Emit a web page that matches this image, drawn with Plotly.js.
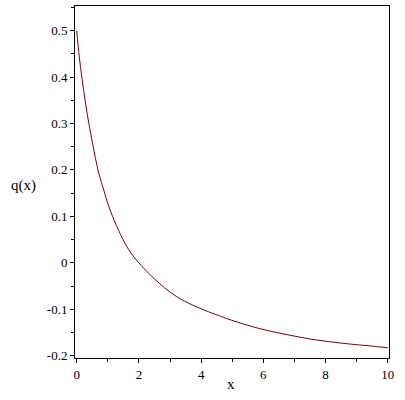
<!DOCTYPE html>
<html>
<head>
<meta charset="utf-8">
<script src="https://cdn.plot.ly/plotly-3.0.1.min.js"></script>
<style>
  html, body { margin: 0; padding: 0; background: #ffffff; }
  #chart { width: 405px; height: 400px; }
</style>
</head>
<body>
<div id="chart"></div>
<script>
// q(x) curve
const xVals = [0, 0.08, 0.17, 0.28, 0.39, 0.53, 0.69, 0.9, 1.06, 1.28, 1.55, 1.81, 2.16, 2.35,
  2.67, 3.0, 3.42, 3.96, 4.5, 4.82, 5.57, 6.21, 6.86, 7.5, 8.14, 8.79, 9.43, 10];
const qVals = [0.5, 0.445, 0.397, 0.345, 0.300, 0.250, 0.198, 0.150, 0.116, 0.080, 0.042, 0.015,
  -0.012, -0.025, -0.045, -0.063, -0.081, -0.098, -0.112, -0.120, -0.136, -0.147, -0.156, -0.164,
  -0.170, -0.175, -0.179, -0.183];

// tick labels
const yTickVals = [-0.2, -0.1, 0, 0.1, 0.2, 0.3, 0.4, 0.5];
const yTickText = ['-0.2', '-0.1', '0', '0.1', '0.2', '0.3', '0.4', '0.5'];
const xTickVals = [0, 2, 4, 6, 8, 10];
const xTickText = ['0', '2', '4', '6', '8', '10'];

const serif = '"Liberation Serif", serif';

const trace = {
  x: xVals,
  y: qVals,
  mode: 'lines',
  line: { color: '#7a0010', width: 1, shape: 'spline', smoothing: 1 },
  hoverinfo: 'skip',
  showlegend: false
};

const layout = {
  width: 405,
  height: 400,
  margin: { l: 75, r: 16, t: 6, b: 42 },
  paper_bgcolor: '#ffffff',
  plot_bgcolor: '#ffffff',
  font: { family: serif, size: 12, color: '#000000' },
  xaxis: {
    range: [-0.055, 10.04],
    tickmode: 'array',
    tickvals: xTickVals,
    ticktext: xTickText,
    ticks: 'outside',
    ticklen: 4,
    tickwidth: 1,
    tickcolor: '#000',
    minor: { ticks: 'outside', ticklen: 3, dtick: 1, tick0: 0, tickcolor: '#000' },
    showgrid: false,
    zeroline: false,
    showline: true,
    linecolor: '#000',
    linewidth: 1,
    mirror: true,
    tickfont: { family: serif, size: 13 }
  },
  yaxis: {
    range: [-0.205, 0.553],
    tickmode: 'array',
    tickvals: yTickVals,
    ticktext: yTickText,
    ticks: 'outside',
    ticklen: 4,
    tickwidth: 1,
    tickcolor: '#000',
    minor: { ticks: 'outside', ticklen: 3, dtick: 0.05, tick0: 0, tickcolor: '#000' },
    showgrid: false,
    zeroline: false,
    showline: true,
    linecolor: '#000',
    linewidth: 1,
    mirror: true,
    tickfont: { family: serif, size: 13 }
  },
  annotations: [
    {
      text: 'q(x)', xref: 'paper', yref: 'paper', x: -0.165, y: 0.49,
      xanchor: 'center', yanchor: 'middle', showarrow: false,
      font: { family: serif, size: 15 }
    },
    {
      text: 'x', xref: 'paper', yref: 'paper', x: 0.497, y: -0.075,
      xanchor: 'center', yanchor: 'middle', showarrow: false,
      font: { family: serif, size: 15 }
    }
  ]
};

Plotly.newPlot('chart', [trace], layout, { staticPlot: true, displayModeBar: false });
</script>
</body>
</html>
